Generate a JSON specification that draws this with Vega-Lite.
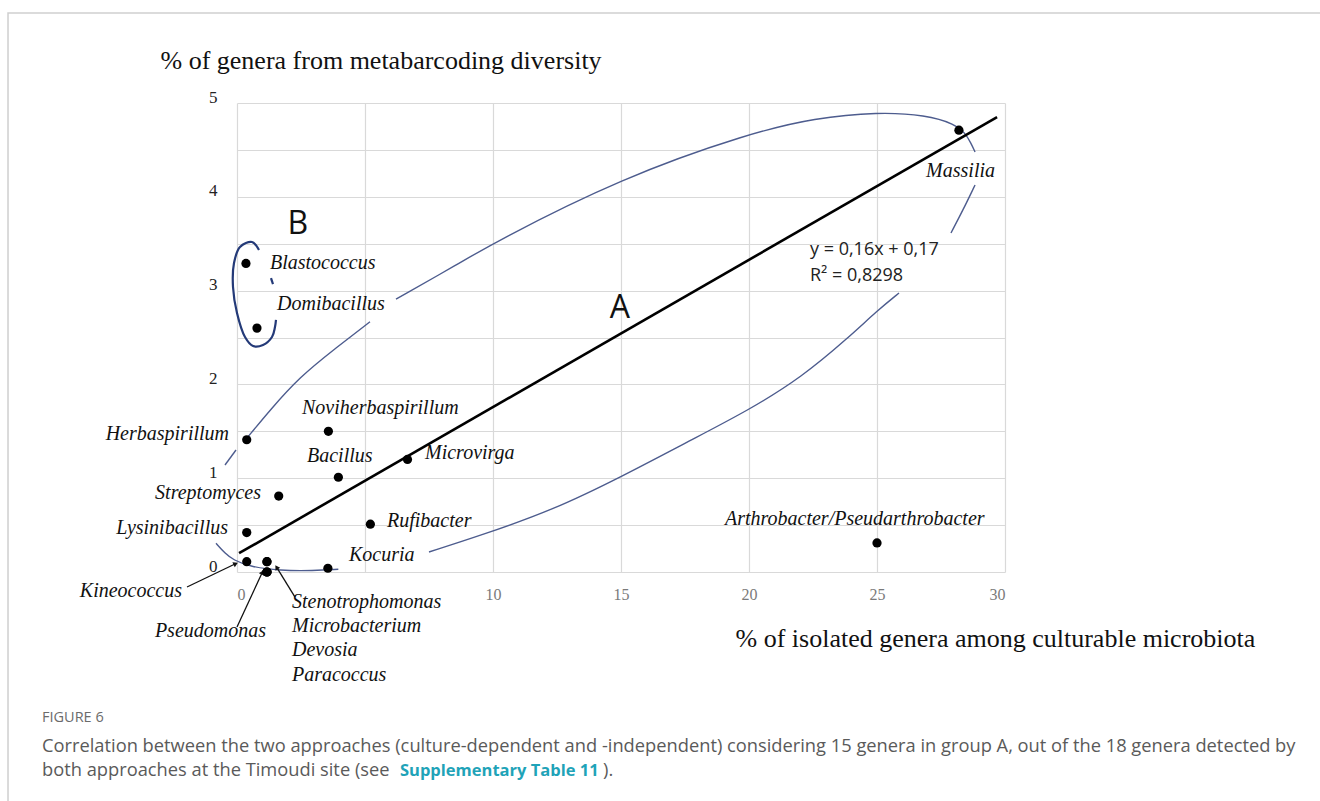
{
  "$schema": "https://vega.github.io/schema/vega-lite/v6.json",
  "width": 768,
  "height": 469,
  "autosize": {"type": "none"},
  "padding": {"left": 237, "top": 103, "right": 315, "bottom": 229},
  "background": "white",
  "config": {"view": {"stroke": null}},
  "datasets": {
    "genera": [
      {"genus": "Massilia", "group": "A", "x": 28.2, "y": 4.71},
      {"genus": "Arthrobacter/Pseudarthrobacter", "group": "none", "x": 25.0, "y": 0.31},
      {"genus": "Blastococcus", "group": "B", "x": 0.35, "y": 3.29},
      {"genus": "Domibacillus", "group": "B", "x": 0.78, "y": 2.6},
      {"genus": "Herbaspirillum", "group": "A", "x": 0.38, "y": 1.41},
      {"genus": "Noviherbaspirillum", "group": "A", "x": 3.57, "y": 1.5},
      {"genus": "Bacillus", "group": "A", "x": 3.96, "y": 1.01},
      {"genus": "Microvirga", "group": "A", "x": 6.66, "y": 1.2},
      {"genus": "Streptomyces", "group": "A", "x": 1.63, "y": 0.81},
      {"genus": "Lysinibacillus", "group": "A", "x": 0.38, "y": 0.42},
      {"genus": "Rufibacter", "group": "A", "x": 5.21, "y": 0.51},
      {"genus": "Kocuria", "group": "A", "x": 3.55, "y": 0.04},
      {"genus": "Kineococcus", "group": "A", "x": 0.38, "y": 0.11},
      {"genus": "Pseudomonas", "group": "A", "x": 1.17, "y": 0.0},
      {"genus": "Stenotrophomonas", "group": "A", "x": 1.17, "y": 0.11},
      {"genus": "Microbacterium", "group": "A", "x": 1.17, "y": 0.11},
      {"genus": "Devosia", "group": "A", "x": 1.17, "y": 0.0},
      {"genus": "Paracoccus", "group": "A", "x": 1.17, "y": 0.0}
    ],
    "labelsLeft": [
      {"text": "Blastococcus", "x": 1.289, "y": 3.294},
      {"text": "Domibacillus", "x": 1.563, "y": 2.857},
      {"text": "Noviherbaspirillum", "x": 2.539, "y": 1.748},
      {"text": "Bacillus", "x": 2.734, "y": 1.237},
      {"text": "Microvirga", "x": 7.344, "y": 1.269},
      {"text": "Rufibacter", "x": 5.859, "y": 0.544},
      {"text": "Kocuria", "x": 4.375, "y": 0.181},
      {"text": "Stenotrophomonas", "x": 2.148, "y": -0.32},
      {"text": "Microbacterium", "x": 2.148, "y": -0.576},
      {"text": "Devosia", "x": 2.148, "y": -0.832},
      {"text": "Paracoccus", "x": 2.148, "y": -1.098},
      {"text": "Arthrobacter/Pseudarthrobacter", "x": 19.06, "y": 0.565}
    ],
    "labelsRight": [
      {"text": "Herbaspirillum", "x": -0.3125, "y": 1.471},
      {"text": "Streptomyces", "x": 0.9375, "y": 0.84},
      {"text": "Lysinibacillus", "x": -0.352, "y": 0.469},
      {"text": "Kineococcus", "x": -2.148, "y": -0.203},
      {"text": "Pseudomonas", "x": 1.133, "y": -0.629},
      {"text": "Massilia", "x": 29.61, "y": 4.275}
    ],
    "fit": [
      {"x": 0.08, "y": 0.2},
      {"x": 29.69, "y": 4.85}
    ],
    "equation": [
      {"text": "y = 0,16x + 0,17", "x": 22.383, "y": 3.433},
      {"text": "R² = 0,8298", "x": 22.383, "y": 3.156}
    ],
    "groups": [
      {"text": "A", "x": 14.96, "y": 2.815},
      {"text": "B", "x": 2.38, "y": 3.71}
    ],
    "ellipseA": [
      {"seg": "a1", "i": 1, "x": -0.82, "y": 0.306},
      {"seg": "a1", "i": 2, "x": -0.469, "y": 0.199},
      {"seg": "a1", "i": 3, "x": -0.143, "y": 0.128},
      {"seg": "a1", "i": 4, "x": 0.508, "y": 0.057},
      {"seg": "a1", "i": 5, "x": 1.68, "y": 0.014},
      {"seg": "a1", "i": 6, "x": 2.982, "y": 0.014},
      {"seg": "a1", "i": 7, "x": 3.958, "y": 0.029},
      {"seg": "a2", "i": 1, "x": 7.5, "y": 0.213},
      {"seg": "a2", "i": 2, "x": 9.57, "y": 0.394},
      {"seg": "a2", "i": 3, "x": 12.344, "y": 0.661},
      {"seg": "a2", "i": 4, "x": 15.0, "y": 1.013},
      {"seg": "a2", "i": 5, "x": 17.734, "y": 1.407},
      {"seg": "a2", "i": 6, "x": 20.0, "y": 1.727},
      {"seg": "a2", "i": 7, "x": 22.07, "y": 2.079},
      {"seg": "a2", "i": 8, "x": 23.87, "y": 2.495},
      {"seg": "a2", "i": 9, "x": 25.04, "y": 2.793},
      {"seg": "a2", "i": 10, "x": 25.86, "y": 2.974},
      {"seg": "a3", "i": 1, "x": 27.89, "y": 3.614},
      {"seg": "a3", "i": 2, "x": 28.36, "y": 3.859},
      {"seg": "a3", "i": 3, "x": 28.83, "y": 4.126},
      {"seg": "a4", "i": 1, "x": 28.83, "y": 4.478},
      {"seg": "a4", "i": 2, "x": 28.67, "y": 4.574},
      {"seg": "a4", "i": 3, "x": 28.44, "y": 4.68},
      {"seg": "a4", "i": 4, "x": 28.05, "y": 4.776},
      {"seg": "a4", "i": 5, "x": 26.91, "y": 4.872},
      {"seg": "a4", "i": 6, "x": 25.04, "y": 4.904},
      {"seg": "a4", "i": 7, "x": 22.58, "y": 4.84},
      {"seg": "a4", "i": 8, "x": 20.04, "y": 4.68},
      {"seg": "a4", "i": 9, "x": 15.0, "y": 4.2},
      {"seg": "a4", "i": 10, "x": 10.0, "y": 3.507},
      {"seg": "a4", "i": 11, "x": 8.71, "y": 3.294},
      {"seg": "a4", "i": 12, "x": 6.21, "y": 2.91},
      {"seg": "a5", "i": 1, "x": 5.195, "y": 2.668},
      {"seg": "a5", "i": 2, "x": 3.763, "y": 2.367},
      {"seg": "a5", "i": 3, "x": 2.461, "y": 2.082},
      {"seg": "a5", "i": 4, "x": 1.289, "y": 1.727},
      {"seg": "a5", "i": 5, "x": 0.379, "y": 1.425},
      {"seg": "a6", "i": 1, "x": -0.039, "y": 1.301},
      {"seg": "a6", "i": 2, "x": -0.469, "y": 1.141}
    ],
    "ellipseB": [
      {"seg": "b1", "i": 1, "x": 0.859, "y": 3.433},
      {"seg": "b1", "i": 2, "x": 0.586, "y": 3.518},
      {"seg": "b1", "i": 3, "x": 0.117, "y": 3.465},
      {"seg": "b1", "i": 4, "x": -0.117, "y": 3.294},
      {"seg": "b1", "i": 5, "x": -0.156, "y": 3.038},
      {"seg": "b1", "i": 6, "x": 0.0, "y": 2.761},
      {"seg": "b1", "i": 7, "x": 0.3125, "y": 2.505},
      {"seg": "b1", "i": 8, "x": 0.625, "y": 2.409},
      {"seg": "b1", "i": 9, "x": 1.016, "y": 2.42},
      {"seg": "b1", "i": 10, "x": 1.367, "y": 2.505},
      {"seg": "b1", "i": 11, "x": 1.484, "y": 2.612},
      {"seg": "b1", "i": 12, "x": 1.523, "y": 2.687},
      {"seg": "b2", "i": 1, "x": 1.328, "y": 3.134},
      {"seg": "b2", "i": 2, "x": 1.406, "y": 3.07}
    ],
    "arrows": [
      {"target": "Kineococcus", "x": -1.953, "y": -0.16, "x2": -0.078, "y2": 0.085},
      {"target": "Pseudomonas", "x": 0.0, "y": -0.586, "x2": 0.977, "y2": -0.011},
      {"target": "Stenotrophomonas", "x": 2.266, "y": -0.267, "x2": 1.5625, "y2": 0.043}
    ],
    "frame": [
      {"x": -8.945, "x2": 45, "y": 5.96, "y2": -3}
    ],
    "captionGray": [
      {"part": "figure", "text": "FIGURE 6", "x": -7.617, "y": -1.556},
      {"part": "line1", "text": "Correlation between the two approaches (culture-dependent and -independent) considering 15 genera in group A, out of the 18 genera detected by", "x": -7.617, "y": -1.866},
      {"part": "line2a", "text": "both approaches at the Timoudi site (see", "x": -7.617, "y": -2.122},
      {"part": "line2c", "text": ").", "x": 14.3, "y": -2.122}
    ],
    "captionLink": [
      {"text": "Supplementary Table 11", "x": 6.367, "y": -2.122}
    ]
  },
  "encoding": {
    "x": {
      "field": "x", "type": "quantitative",
      "scale": {"domain": [0, 30], "nice": false, "zero": false},
      "axis": {
        "values": [0, 5, 10, 15, 20, 25, 30],
        "labelExpr": "datum.value == 5 ? '' : datum.label",
        "grid": true, "gridColor": "#d9d9d9", "gridWidth": 1.2,
        "ticks": false, "domain": false,
        "labelFont": "Liberation Serif", "labelFontSize": 16, "labelColor": "#7a7a7a", "labelPadding": 14,
        "title": "% of isolated genera among culturable microbiota",
        "titleFont": "Liberation Serif", "titleFontSize": 26, "titleFontWeight": "normal", "titleColor": "#111111",
        "titleX": 498, "titleY": 66, "titleAlign": "left", "titleBaseline": "middle"
      }
    },
    "y": {
      "field": "y", "type": "quantitative",
      "scale": {"domain": [0, 5], "nice": false, "zero": false},
      "axis": {
        "values": [0, 0.5, 1, 1.5, 2, 2.5, 3, 3.5, 4, 4.5, 5],
        "labelExpr": "datum.value % 1 == 0 ? format(datum.value, 'd') : ''",
        "grid": true, "gridColor": "#d9d9d9", "gridWidth": 1.2,
        "ticks": false, "domain": false,
        "labelFont": "Liberation Serif", "labelFontSize": 17, "labelColor": "#222222", "labelPadding": 20, "labelOffset": -6,
        "title": "% of genera from metabarcoding diversity",
        "titleFont": "Liberation Serif", "titleFontSize": 26, "titleFontWeight": "normal", "titleColor": "#111111",
        "titleAngle": 0, "titleX": -77, "titleY": -43, "titleAlign": "left", "titleBaseline": "middle"
      }
    }
  },
  "layer": [
    {
      "data": {"name": "frame"},
      "mark": {"type": "rect", "fill": "transparent", "stroke": "#cfcfcf", "strokeWidth": 1.5},
      "encoding": {"x2": {"field": "x2"}, "y2": {"field": "y2"}}
    },
    {
      "data": {"name": "ellipseA"},
      "mark": {"type": "line", "interpolate": "basis", "color": "#4d5c8e", "strokeWidth": 1.4},
      "encoding": {"detail": {"field": "seg"}, "order": {"field": "i", "type": "quantitative"}}
    },
    {
      "data": {"name": "ellipseB"},
      "mark": {"type": "line", "interpolate": "catmull-rom", "color": "#243a78", "strokeWidth": 2.2},
      "encoding": {"detail": {"field": "seg"}, "order": {"field": "i", "type": "quantitative"}}
    },
    {
      "data": {"name": "fit"},
      "mark": {"type": "line", "color": "#000000", "strokeWidth": 2.6},
      "encoding": {}
    },
    {
      "data": {"name": "arrows"},
      "mark": {"type": "rule", "color": "#111111", "strokeWidth": 1.3},
      "encoding": {"x2": {"field": "x2"}, "y2": {"field": "y2"}}
    },
    {
      "data": {"name": "arrows"},
      "transform": [{"filter": "datum.target == 'Kineococcus'"}],
      "mark": {"type": "point", "shape": "triangle", "filled": true, "color": "#111111", "size": 30, "angle": 64, "opacity": 1},
      "encoding": {"x": {"field": "x2", "type": "quantitative"}, "y": {"field": "y2", "type": "quantitative"}}
    },
    {
      "data": {"name": "arrows"},
      "transform": [{"filter": "datum.target == 'Pseudomonas'"}],
      "mark": {"type": "point", "shape": "triangle", "filled": true, "color": "#111111", "size": 30, "angle": 25, "opacity": 1},
      "encoding": {"x": {"field": "x2", "type": "quantitative"}, "y": {"field": "y2", "type": "quantitative"}}
    },
    {
      "data": {"name": "arrows"},
      "transform": [{"filter": "datum.target == 'Stenotrophomonas'"}],
      "mark": {"type": "point", "shape": "triangle", "filled": true, "color": "#111111", "size": 30, "angle": 328, "opacity": 1},
      "encoding": {"x": {"field": "x2", "type": "quantitative"}, "y": {"field": "y2", "type": "quantitative"}}
    },
    {
      "data": {"name": "genera"},
      "mark": {"type": "circle", "color": "#000000", "size": 85, "opacity": 1},
      "encoding": {"tooltip": [{"field": "genus"}, {"field": "x"}, {"field": "y"}]}
    },
    {
      "data": {"name": "labelsLeft"},
      "mark": {"type": "text", "align": "left", "baseline": "middle", "font": "Liberation Serif", "fontStyle": "italic", "fontSize": 20, "color": "#111111"},
      "encoding": {"text": {"field": "text"}}
    },
    {
      "data": {"name": "labelsRight"},
      "mark": {"type": "text", "align": "right", "baseline": "middle", "font": "Liberation Serif", "fontStyle": "italic", "fontSize": 20, "color": "#111111"},
      "encoding": {"text": {"field": "text"}}
    },
    {
      "data": {"name": "equation"},
      "mark": {"type": "text", "align": "left", "baseline": "middle", "font": "Open Sans", "fontSize": 18, "color": "#222222"},
      "encoding": {"text": {"field": "text"}}
    },
    {
      "data": {"name": "groups"},
      "mark": {"type": "text", "align": "center", "baseline": "middle", "font": "Open Sans", "fontSize": 32, "color": "#111111"},
      "encoding": {"text": {"field": "text"}}
    },
    {
      "data": {"name": "captionGray"},
      "transform": [{"filter": "datum.part == 'figure'"}],
      "mark": {"type": "text", "align": "left", "baseline": "middle", "font": "Open Sans", "fontSize": 14.5, "color": "#6b6b6b"},
      "encoding": {"text": {"field": "text"}}
    },
    {
      "data": {"name": "captionGray"},
      "transform": [{"filter": "datum.part != 'figure'"}],
      "mark": {"type": "text", "align": "left", "baseline": "middle", "font": "Open Sans", "fontSize": 18.3, "color": "#5a5a5a"},
      "encoding": {"text": {"field": "text"}}
    },
    {
      "data": {"name": "captionLink"},
      "mark": {"type": "text", "align": "left", "baseline": "middle", "font": "Open Sans", "fontSize": 16.5, "fontWeight": "bold", "color": "#1fa3b8"},
      "encoding": {"text": {"field": "text"}}
    }
  ]
}
